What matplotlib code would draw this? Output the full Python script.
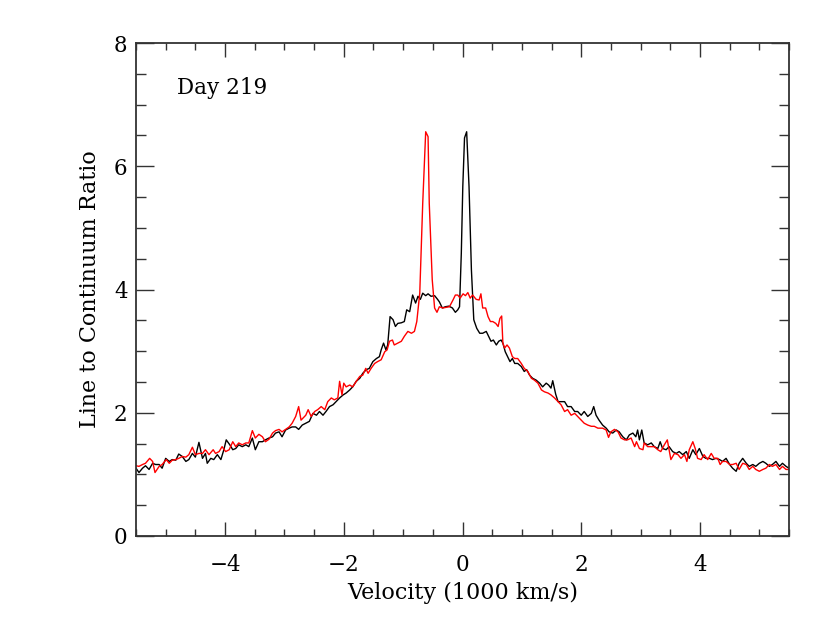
import matplotlib
matplotlib.use("Agg")
import matplotlib.pyplot as plt
from matplotlib.ticker import MultipleLocator

vel_black = [-5.50, -5.45, -5.39, -5.34, -5.28, -5.22, -5.17, -5.11, -5.06, -5.00,
             -4.94, -4.89, -4.83, -4.78, -4.72, -4.66, -4.61, -4.55, -4.50, -4.44,
             -4.38, -4.33, -4.30, -4.24, -4.19, -4.13, -4.07, -4.02, -3.98, -3.92,
             -3.87, -3.82, -3.77, -3.71, -3.65, -3.60, -3.54, -3.49, -3.43, -3.37,
             -3.32, -3.26, -3.20, -3.15, -3.09, -3.04, -2.98, -2.92, -2.87, -2.81,
             -2.76, -2.70, -2.64, -2.58, -2.52, -2.46, -2.41, -2.35, -2.30, -2.24,
             -2.18, -2.13, -2.07, -2.01, -1.96, -1.90, -1.85, -1.79, -1.73, -1.68,
             -1.62, -1.57, -1.51, -1.45, -1.40, -1.37, -1.33, -1.29, -1.26, -1.22,
             -1.17, -1.13, -1.09, -1.03, -0.98, -0.94, -0.89, -0.86, -0.84, -0.79,
             -0.75, -0.71, -0.67, -0.62, -0.58, -0.53, -0.47, -0.42, -0.39, -0.34,
             -0.29, -0.23, -0.17, -0.12, -0.08, -0.05, -0.02, 0.005, 0.034, 0.07,
             0.11, 0.15, 0.19, 0.20, 0.24, 0.29, 0.34, 0.40, 0.44, 0.48,
             0.52, 0.57, 0.61, 0.65, 0.68, 0.72, 0.76, 0.80, 0.84, 0.88,
             0.93, 0.99, 1.04, 1.08, 1.13, 1.18, 1.24, 1.30, 1.35, 1.41,
             1.45, 1.49, 1.52, 1.57, 1.61, 1.66, 1.72, 1.77, 1.83, 1.89,
             1.94, 2.00, 2.05, 2.11, 2.17, 2.21, 2.25, 2.30, 2.36, 2.42,
             2.47, 2.53, 2.59, 2.64, 2.70, 2.76, 2.81, 2.87, 2.92, 2.95,
             2.98, 3.02, 3.06, 3.12, 3.18, 3.23, 3.29, 3.33, 3.37, 3.43,
             3.48, 3.54, 3.60, 3.65, 3.71, 3.77, 3.82, 3.88, 3.93, 3.99,
             4.05, 4.10, 4.16, 4.21, 4.27, 4.33, 4.38, 4.44, 4.50, 4.55,
             4.61, 4.66, 4.72, 4.78, 4.83, 4.89, 4.94, 5.00, 5.06, 5.11,
             5.17, 5.22, 5.28, 5.34, 5.39, 5.45, 5.50]
ratio_black = [1.10, 1.03, 1.10, 1.14, 1.08, 1.18, 1.16, 1.16, 1.10, 1.26,
               1.21, 1.24, 1.23, 1.33, 1.29, 1.21, 1.24, 1.34, 1.28, 1.52,
               1.26, 1.34, 1.18, 1.26, 1.24, 1.32, 1.24, 1.40, 1.56, 1.48,
               1.40, 1.42, 1.48, 1.45, 1.48, 1.45, 1.59, 1.40, 1.53, 1.53,
               1.56, 1.59, 1.61, 1.67, 1.69, 1.61, 1.72, 1.75, 1.77, 1.77,
               1.73, 1.80, 1.83, 1.86, 1.99, 1.96, 2.02, 1.96, 2.02, 2.10,
               2.13, 2.18, 2.24, 2.29, 2.32, 2.37, 2.42, 2.51, 2.56, 2.64,
               2.70, 2.72, 2.83, 2.88, 2.91, 3.02, 3.13, 3.02, 3.10, 3.56,
               3.51, 3.40, 3.45, 3.46, 3.48, 3.67, 3.64, 3.80, 3.91, 3.78,
               3.89, 3.84, 3.94, 3.90, 3.93, 3.89, 3.90, 3.84, 3.80, 3.70,
               3.72, 3.73, 3.70, 3.63, 3.67, 3.72, 4.59, 5.67, 6.46, 6.56,
               5.67, 4.32, 3.51, 3.48, 3.37, 3.29, 3.29, 3.32, 3.24, 3.16,
               3.18, 3.10, 3.16, 3.18, 3.13, 2.99, 2.91, 2.83, 2.88, 2.80,
               2.80, 2.75, 2.67, 2.70, 2.61, 2.56, 2.53, 2.48, 2.42, 2.48,
               2.45, 2.40, 2.52, 2.30, 2.18, 2.18, 2.18, 2.10, 2.10, 2.02,
               2.02, 1.96, 2.02, 1.94, 1.99, 2.10, 1.96, 1.88, 1.80, 1.75,
               1.69, 1.67, 1.72, 1.69, 1.61, 1.56, 1.64, 1.67, 1.61, 1.72,
               1.56, 1.72, 1.51, 1.48, 1.51, 1.45, 1.42, 1.53, 1.42, 1.40,
               1.45, 1.37, 1.34, 1.37, 1.32, 1.37, 1.26, 1.40, 1.32, 1.42,
               1.29, 1.26, 1.26, 1.24, 1.26, 1.24, 1.21, 1.26, 1.16, 1.10,
               1.05, 1.18, 1.26, 1.18, 1.13, 1.16, 1.13, 1.18, 1.21, 1.18,
               1.13, 1.16, 1.21, 1.13, 1.18, 1.13, 1.10]

vel_red = [-5.50, -5.45, -5.39, -5.34, -5.27, -5.22, -5.18, -5.11, -5.06, -4.99,
           -4.94, -4.89, -4.83, -4.78, -4.72, -4.66, -4.61, -4.55, -4.50, -4.44,
           -4.38, -4.33, -4.27, -4.20, -4.16, -4.10, -4.05, -3.99, -3.93, -3.87,
           -3.82, -3.77, -3.71, -3.65, -3.60, -3.54, -3.49, -3.43, -3.37, -3.32,
           -3.26, -3.20, -3.15, -3.09, -3.04, -2.98, -2.92, -2.87, -2.81, -2.76,
           -2.72, -2.64, -2.60, -2.55, -2.49, -2.44, -2.38, -2.32, -2.27, -2.21,
           -2.16, -2.10, -2.07, -2.03, -2.00, -1.96, -1.90, -1.85, -1.79, -1.73,
           -1.68, -1.63, -1.59, -1.54, -1.48, -1.43, -1.37, -1.31, -1.27, -1.23,
           -1.18, -1.15, -1.09, -1.03, -0.98, -0.92, -0.86, -0.81, -0.77, -0.72,
           -0.67, -0.62, -0.58, -0.56, -0.51, -0.47, -0.43, -0.39, -0.33, -0.28,
           -0.22, -0.16, -0.12, -0.08, -0.04, 0.01, 0.05, 0.09, 0.13, 0.17,
           0.23, 0.28, 0.31, 0.34, 0.39, 0.43, 0.47, 0.51, 0.56, 0.60,
           0.63, 0.66, 0.68, 0.71, 0.75, 0.79, 0.84, 0.88, 0.93, 0.99,
           1.04, 1.10, 1.16, 1.21, 1.27, 1.33, 1.38, 1.44, 1.49, 1.55,
           1.61, 1.66, 1.72, 1.77, 1.83, 1.89, 1.94, 2.00, 2.05, 2.11,
           2.17, 2.22, 2.28, 2.36, 2.42, 2.46, 2.50, 2.56, 2.62, 2.67,
           2.73, 2.78, 2.84, 2.90, 2.93, 2.98, 3.04, 3.06, 3.12, 3.18,
           3.23, 3.29, 3.34, 3.40, 3.45, 3.48, 3.51, 3.57, 3.63, 3.68,
           3.74, 3.78, 3.82, 3.88, 3.92, 3.96, 4.02, 4.07, 4.13, 4.19,
           4.24, 4.30, 4.34, 4.38, 4.44, 4.50, 4.55, 4.61, 4.66, 4.72,
           4.78, 4.83, 4.89, 4.94, 5.00, 5.06, 5.11, 5.17, 5.22, 5.28,
           5.34, 5.39, 5.45, 5.50]
ratio_red = [1.14, 1.13, 1.16, 1.18, 1.26, 1.21, 1.03, 1.13, 1.16, 1.24,
             1.18, 1.23, 1.24, 1.26, 1.29, 1.28, 1.32, 1.44, 1.32, 1.34,
             1.34, 1.40, 1.32, 1.40, 1.34, 1.37, 1.45, 1.37, 1.40, 1.53,
             1.45, 1.51, 1.48, 1.51, 1.51, 1.71, 1.59, 1.65, 1.61, 1.53,
             1.57, 1.67, 1.71, 1.73, 1.69, 1.73, 1.77, 1.83, 1.94, 2.10,
             1.88, 1.96, 2.05, 1.94, 2.02, 2.05, 2.10, 2.05, 2.18, 2.24,
             2.21, 2.24, 2.51, 2.29, 2.48, 2.42, 2.45, 2.42, 2.51, 2.59,
             2.61, 2.72, 2.64, 2.72, 2.80, 2.83, 2.86, 2.99, 3.02, 3.16,
             3.18, 3.10, 3.13, 3.16, 3.24, 3.32, 3.29, 3.32, 3.48, 3.94,
             5.40, 6.56, 6.48, 5.40, 4.16, 3.70, 3.63, 3.72, 3.70, 3.71,
             3.72, 3.83, 3.91, 3.91, 3.86, 3.93, 3.90, 3.95, 3.86, 3.91,
             3.84, 3.83, 3.93, 3.70, 3.70, 3.56, 3.48, 3.48, 3.45, 3.40,
             3.53, 3.57, 3.13, 3.05, 3.10, 3.05, 2.91, 2.88, 2.88, 2.80,
             2.72, 2.67, 2.56, 2.53, 2.48, 2.37, 2.34, 2.32, 2.29, 2.24,
             2.18, 2.13, 2.02, 2.05, 1.96, 1.99, 1.94, 1.88, 1.83, 1.80,
             1.78, 1.78, 1.75, 1.75, 1.72, 1.60, 1.69, 1.73, 1.69, 1.59,
             1.56, 1.56, 1.59, 1.45, 1.53, 1.42, 1.40, 1.51, 1.45, 1.45,
             1.45, 1.40, 1.37, 1.48, 1.56, 1.40, 1.24, 1.34, 1.32, 1.26,
             1.32, 1.21, 1.40, 1.53, 1.42, 1.26, 1.24, 1.32, 1.24, 1.34,
             1.26, 1.26, 1.16, 1.21, 1.21, 1.16, 1.16, 1.18, 1.08, 1.18,
             1.16, 1.08, 1.13, 1.08, 1.05, 1.08, 1.10, 1.16, 1.13, 1.16,
             1.08, 1.13, 1.08, 1.08]

x_label = "Velocity (1000 km/s)"
y_label = "Line to Continuum Ratio"
panel_label = "Day 219"

plt.rcParams['font.family'] = ['DejaVu Serif']

fig = plt.figure(figsize=(8.3, 6.23), dpi=100)
ax = fig.add_axes([136/830, 87/623, 653/830, 493/623])

ax.plot(vel_black, ratio_black, color='black', lw=1.0)
ax.plot(vel_red, ratio_red, color='#ff0000', lw=1.0)

ax.set_xlim(-5.5, 5.5)
ax.set_ylim(0, 8)
ax.xaxis.set_major_locator(MultipleLocator(2))
ax.xaxis.set_minor_locator(MultipleLocator(0.5))
ax.yaxis.set_major_locator(MultipleLocator(2))
ax.yaxis.set_minor_locator(MultipleLocator(0.5))
ax.tick_params(which='both', direction='in', top=True, right=True, width=1.0,
               color='#333333', labelsize=15.5)
ax.tick_params(axis='x', which='major', length=10, pad=13)
ax.tick_params(axis='x', which='minor', length=5)
ax.tick_params(axis='y', which='major', length=13, pad=6)
ax.tick_params(axis='y', which='minor', length=7)
for s in ax.spines.values():
    s.set_linewidth(1.3)
    s.set_color('#333333')

ax.set_xlabel(x_label, fontsize=16, labelpad=4)
ax.set_ylabel(y_label, fontsize=16, labelpad=9)
ax.text(-4.81, 7.27, panel_label, fontsize=15.5, va='center', ha='left')

fig.savefig("out.png", dpi=100)
